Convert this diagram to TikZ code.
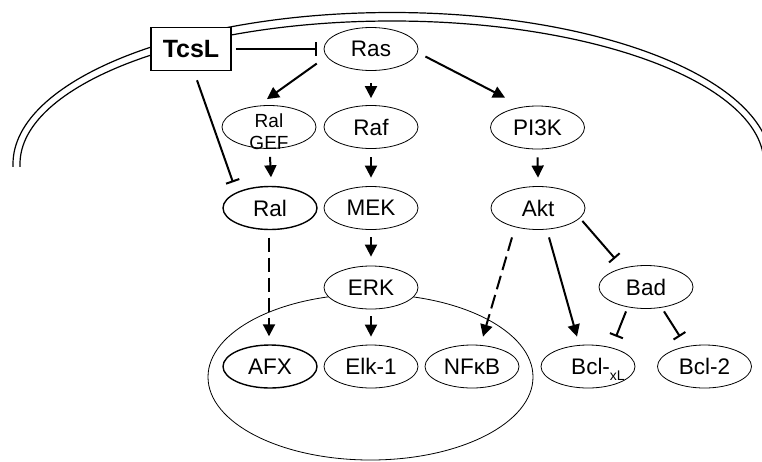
\documentclass[tikz,border=0pt]{standalone}
\usepackage{fontspec}
\setmainfont{Liberation Sans}
\usetikzlibrary{arrows.meta,shapes.geometric}
\begin{document}
\begin{tikzpicture}[x=1pt,y=-1pt,
  ell/.style={ellipse, draw, fill=white, line width=0.8pt, minimum width=94pt, minimum height=43pt, inner sep=0pt, font=\fontsize{22.5}{26}\selectfont},
  gef/.style={align=center, inner sep=0pt, font=\fontsize{19}{22}\selectfont},
  boxnode/.style={rectangle, draw, fill=white, line width=1.5pt, minimum width=80pt, minimum height=43pt, inner sep=0pt, font=\bfseries\fontsize{25}{28}\selectfont},
  arr/.style={line width=2pt, -{Triangle[length=12pt,width=12pt]}},
  darr/.style={arr, dash pattern=on 14pt off 6pt},
  inh/.style={line width=2pt, -{Bar[width=14pt]}},
  memb/.style={line width=1.2pt}
]
\useasboundingbox (0,0) rectangle (762,461);

% membrane
\begin{scope}
  \clip (0,0) rectangle (762,166);
  \draw[memb] (392,164) ellipse [x radius=379pt, y radius=151.5pt];
  \draw[memb] (392,164) ellipse [x radius=372pt, y radius=143pt];
\end{scope}

% nucleus
\node[ellipse, draw, line width=0.8pt, minimum width=325pt, minimum height=166pt, inner sep=0pt] (nucleus) at (370.5,377) {};

% nodes
\node[boxnode] (tcsl) at (191,49) {TcsL};
\node[ell] (ras) at (371,49) {Ras};
\node[ell] (ralgef) at (269,127) {};
\node[gef] (ralgeftext) at (269,131.5) {Ral\\GEF};
\node[ell] (raf) at (371,127) {Raf};
\node[ell] (pi3k) at (537.5,127.5) {PI3K};
\node[ell, line width=1.4pt] (ral) at (270,208) {Ral};
\node[ell] (mek) at (371,208) {MEK};
\node[ell] (akt) at (538,208) {Akt};
\node[ell] (erk) at (371,287.5) {ERK};
\node[ell] (bad) at (646,287) {Bad};
\node[ell, line width=1.4pt] (afx) at (270,366.5) {AFX};
\node[ell] (elk) at (371,366.5) {Elk-1};
\node[ell] (nfkb) at (472,366.5) {NFκB};
\node[ell] (bclxl) at (588,366.5) {\makebox[0pt]{\hspace{20pt}Bcl-\raisebox{-6pt}[0pt][0pt]{\fontsize{14}{14}\selectfont xL}}};
\node[ell] (bcl2) at (704.5,366.5) {Bcl-2};

% connectors
\draw[inh] ([shift={(4,0)}]tcsl.east) -- ([shift={(-7,0)}]ras.west);
\draw[inh] ([shift={(6,9)}]tcsl.south) -- ([shift={(-37,-3.5)}]ral.north);
\draw[arr] ([shift={(-17,1)}]ras.200) -- ([shift={(-2,-6)}]ralgef.north);
\draw[arr] ([shift={(0,12)}]ras.south) -- ([shift={(0,-7)}]raf.north);
\draw[arr] ([shift={(7,7.5)}]ras.east) -- ([shift={(-32.5,-8)}]pi3k.north);
\draw[arr] ([shift={(1,8)}]ralgef.south) -- ([shift={(1,-8.5)}]ral.north);
\draw[arr] ([shift={(0,8.5)}]raf.south) -- ([shift={(0,-8.5)}]mek.north);
\draw[arr] ([shift={(0,8)}]pi3k.south) -- ([shift={(0,-8.5)}]akt.north);
\draw[darr] ([shift={(-1,7.5)}]ral.south) -- ([shift={(-1,-8)}]afx.north);
\draw[arr] ([shift={(0,7.5)}]mek.south) -- ([shift={(0,-9)}]erk.north);
\draw[arr] ([shift={(0,7)}]erk.south) -- ([shift={(0,-8)}]elk.north);
\draw[darr] ([shift={(-26,7.5)}]akt.south) -- ([shift={(11,-8)}]nfkb.north);
\draw[arr] ([shift={(11,7.5)}]akt.south) -- ([shift={(-11,-8)}]bclxl.north);
\draw[inh] ([shift={(-3,13)}]akt.east) -- ([shift={(-31,-6.5)}]bad.north);
\draw[inh] ([shift={(-20,2.5)}]bad.south) -- ([shift={(28,-8)}]bclxl.north);
\draw[inh] ([shift={(18,2.5)}]bad.south) -- ([shift={(-24.5,-8)}]bcl2.north);
\end{tikzpicture}
\end{document}
